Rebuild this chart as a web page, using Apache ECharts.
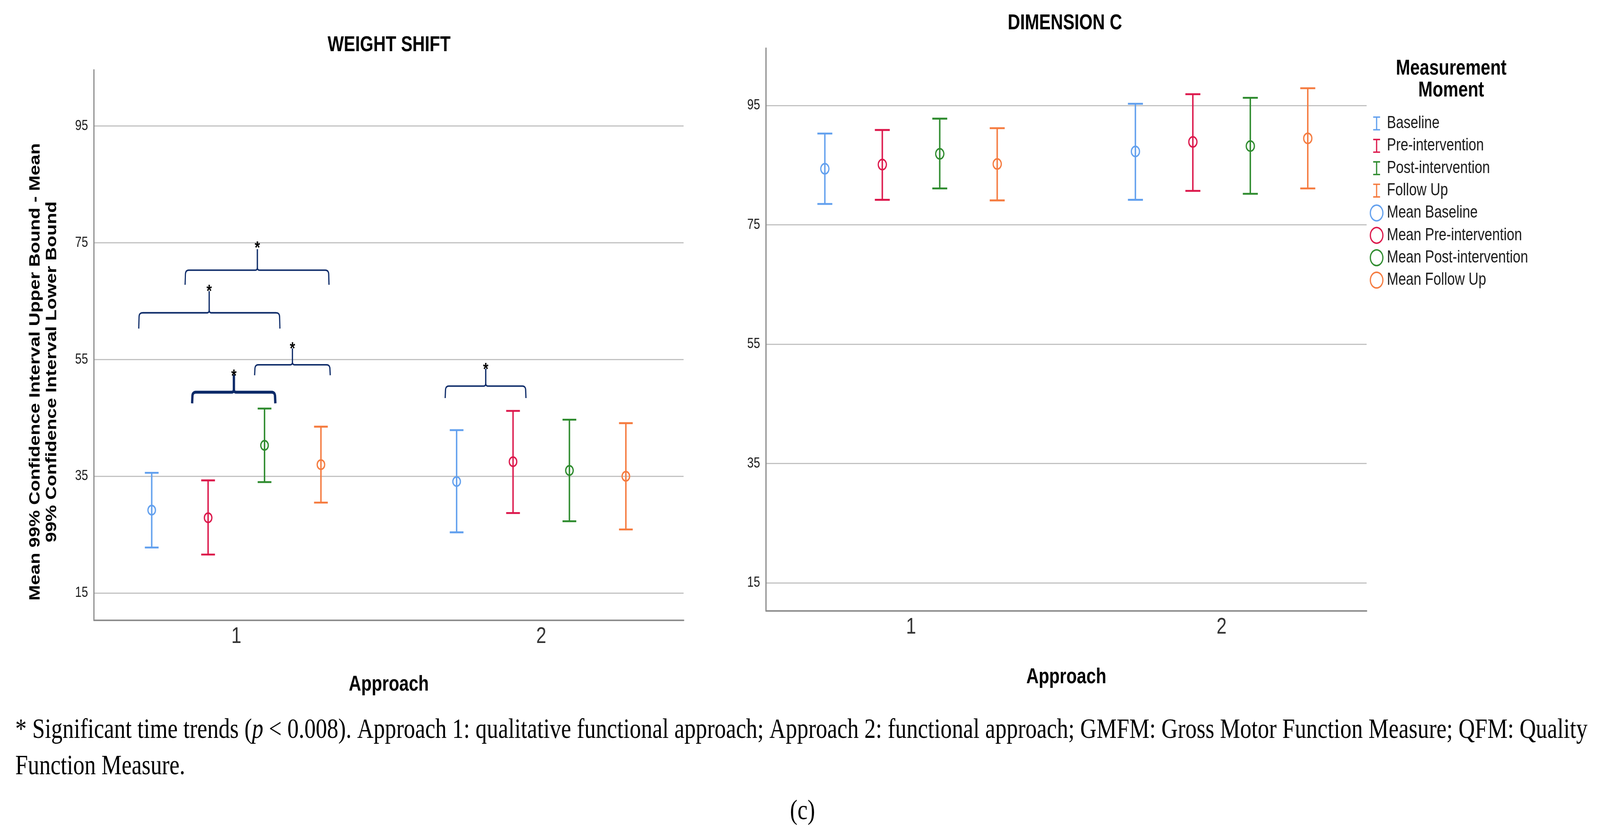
<!DOCTYPE html>
<html>
<head>
<meta charset="utf-8">
<script src="https://cdn.jsdelivr.net/npm/echarts@6/dist/echarts.min.js"></script>
<style>html,body{margin:0;padding:0;background:#fff;overflow:hidden}#wrap{position:relative;overflow:hidden}#c{position:absolute;left:0;top:0;width:5128px;height:2135px;transform-origin:0 0}</style>
</head>
<body>
<div id="wrap"><div id="c"></div></div>
<script>
// ---------------- data ----------------
const approaches = [1, 2];
const moments = ['Baseline', 'Pre-intervention', 'Post-intervention', 'Follow Up'];
const yTicks = [15, 35, 55, 75, 95];

// WEIGHT SHIFT: per moment, values for approach 1 and 2
const wsMean  = [[29.2, 34.1], [27.9, 37.5], [40.3, 36.0], [37.0, 35.0]];
const wsLower = [[22.8, 25.4], [21.6, 28.7], [34.0, 27.3], [30.5, 25.9]];
const wsUpper = [[35.6, 42.9], [34.3, 46.2], [46.6, 44.7], [43.5, 44.1]];

// DIMENSION C
const dcMean  = [[84.4, 87.3], [85.1, 88.9], [86.9, 88.2], [85.2, 89.5]];
const dcLower = [[78.5, 79.2], [79.2, 80.7], [81.1, 80.2], [79.1, 81.1]];
const dcUpper = [[90.3, 95.3], [90.9, 96.9], [92.8, 96.3], [91.2, 97.9]];

// significance brackets on WEIGHT SHIFT (x in approach units, y in score units)
// [xLeft, xRight, yBar, yLegEnd, xStem, yStemTop, yStar, heavy]
const wsBrackets = [
  [0.832, 1.304, 70.3, 67.8, 1.069, 73.9, 74.6, 0],
  [0.680, 1.143, 63.0, 60.3, 0.911, 66.7, 67.2, 0],
  [1.060, 1.308, 54.1, 52.3, 1.184, 56.9, 57.4, 0],
  [0.855, 1.128, 49.4, 47.5, 0.992, 52.4, 52.7, 1],
  [1.685, 1.950, 50.45, 48.4, 1.818, 53.4, 53.8, 0]
];

// ---------------- style ----------------
const SANS = '"Liberation Sans", Arial, sans-serif';
const NARROW = '"Liberation Sans Narrow", "Liberation Sans", Arial, sans-serif';
const SERIF = '"Liberation Serif", "Times New Roman", serif';
const colors = ['#62a0ee', '#dc174b', '#2e8b2e', '#f57b3f'];
const BRACE = '#0c2a68';
const X_MIN = 0.533, X_MAX = 2.467, Y_MIN = 10.33, Y_MAX = 104.6, STEP = 0.185;

// the chart is laid out on a 5128x2135 design canvas and stretched to fill the viewport
const W = 5128, H = 2135;
const vw = window.innerWidth || W, vh = window.innerHeight || H;
const SX = vw / W, SY = vh / H;
const wrap = document.getElementById('wrap');
wrap.style.width = vw + 'px';
wrap.style.height = vh + 'px';
document.getElementById('c').style.transform = 'scale(' + SX + ',' + SY + ')';

const ctx = document.createElement('canvas').getContext('2d');
function fitSize(text, weight, family, target) {
  ctx.font = weight + ' 100px ' + family;
  return 100 * target / ctx.measureText(text).width;
}

function barRender(m, capHalf) {
  return function (params, api) {
    const x = api.value(0);
    const dx = api.size([STEP, 0])[0] * (m - 1.5);
    const pHi = api.coord([x, api.value(2)]);
    const pLo = api.coord([x, api.value(1)]);
    const cx = pHi[0] + dx;
    const st = { stroke: colors[m], lineWidth: 4.6, fill: null };
    return { type: 'group', children: [
      { type: 'line', shape: { x1: cx, y1: pHi[1], x2: cx, y2: pLo[1] }, style: st },
      { type: 'line', shape: { x1: cx - capHalf, y1: pHi[1], x2: cx + capHalf, y2: pHi[1] }, style: { stroke: colors[m], lineWidth: 4.8 } },
      { type: 'line', shape: { x1: cx - capHalf, y1: pLo[1], x2: cx + capHalf, y2: pLo[1] }, style: { stroke: colors[m], lineWidth: 4.8 } }
    ] };
  };
}
function meanRender(m, r) {
  return function (params, api) {
    const x = api.value(0);
    const dx = api.size([STEP, 0])[0] * (m - 1.5);
    const p = api.coord([x, api.value(1)]);
    return { type: 'circle', shape: { cx: p[0] + dx, cy: p[1], r: r },
      style: { fill: 'none', stroke: colors[m], lineWidth: 4 } };
  };
}
function quadPts(p0, p1, p2, n) {
  const pts = [];
  for (let i = 1; i <= n; i++) {
    const t = i / n, u = 1 - t;
    pts.push([u * u * p0[0] + 2 * u * t * p1[0] + t * t * p2[0], u * u * p0[1] + 2 * u * t * p1[1] + t * t * p2[1]]);
  }
  return pts;
}
function bracketRender(params, api) {
  const xl = api.value(0), xr = api.value(1), yb = api.value(2), yl = api.value(3);
  const xs = api.value(4), yt = api.value(5), ys = api.value(6), heavy = api.value(7);
  const L = api.coord([xl, yl]), R = api.coord([xr, yl]);
  const bar = api.coord([xl, yb])[1];
  const S = api.coord([xs, yt]);
  const st = api.coord([xs, ys]);
  const cX = S[0];
  const r = 11, c = 7;
  const lw = heavy ? 7.5 : 3.8;
  const left = [[L[0], L[1]], [L[0] + 1, bar + r]]
    .concat(quadPts([L[0] + 1, bar + r], [L[0] + 1, bar], [L[0] + 1 + r, bar], 6))
    .concat([[cX - c, bar]])
    .concat(quadPts([cX - c, bar], [cX, bar], [cX, bar - c], 5));
  const right = [[cX, bar - c]]
    .concat(quadPts([cX, bar - c], [cX, bar], [cX + c, bar], 5))
    .concat([[R[0] - 1 - r, bar]])
    .concat(quadPts([R[0] - 1 - r, bar], [R[0] - 1, bar], [R[0] - 1, bar + r], 6))
    .concat([[R[0], R[1]]]);
  const fs = 44;
  return { type: 'group', children: [
    { type: 'polyline', shape: { points: left }, style: { stroke: BRACE, lineWidth: lw, fill: null, lineJoin: 'round' } },
    { type: 'polyline', shape: { points: right }, style: { stroke: BRACE, lineWidth: lw, fill: null, lineJoin: 'round' } },
    { type: 'line', shape: { x1: cX, y1: bar - c + 1, x2: cX, y2: S[1] }, style: { stroke: BRACE, lineWidth: heavy ? 7.5 : 4 } },
    { type: 'text', x: st[0], y: st[1] + 0.226 * fs,
      style: { text: '*', font: 'bold ' + fs + 'px ' + SANS, fill: '#000',
        align: 'center', verticalAlign: 'middle', textAlign: 'center', textVerticalAlign: 'middle' } }
  ] };
}

// ---------------- series ----------------
const sets = [
  { mean: wsMean, lower: wsLower, upper: wsUpper, cap: 22, r: 12 },
  { mean: dcMean, lower: dcLower, upper: dcUpper, cap: 24, r: 13 }
];
const series = [];
sets.forEach(function (s, g) {
  moments.forEach(function (name, m) {
    series.push({
      type: 'custom', name: name, xAxisIndex: g, yAxisIndex: g,
      itemStyle: { color: colors[m] }, silent: true,
      encode: { x: 0, y: [1, 2] },
      renderItem: barRender(m, s.cap),
      data: approaches.map(function (a, j) { return [a, s.lower[m][j], s.upper[m][j]]; })
    });
  });
  moments.forEach(function (name, m) {
    series.push({
      type: 'custom', name: 'Mean ' + name, xAxisIndex: g, yAxisIndex: g,
      itemStyle: { color: colors[m] }, silent: true,
      encode: { x: 0, y: 1 },
      renderItem: meanRender(m, s.r),
      data: approaches.map(function (a, j) { return [a, s.mean[m][j]]; })
    });
  });
});
series.push({
  type: 'custom', name: 'significance', xAxisIndex: 0, yAxisIndex: 0, silent: true,
  renderItem: bracketRender, data: wsBrackets
});

// ---------------- legend icons ----------------
const BOX = 'M0,0h0.05v0.05h-0.05Z M56,44h-0.05v-0.05h0.05Z ';
const ICON_BAR = 'path://' + BOX + 'M17,4H39V7.6H29.9V36.4H39V40H17V36.4H26.1V7.6H17Z';
const ICON_RING = 'path://' + BOX + 'M6,22A22,22,0,0,1,50,22A22,22,0,0,1,6,22Z M9.8,22A18.2,18.2,0,0,0,46.2,22A18.2,18.2,0,0,0,9.8,22Z';
const legendData = moments.map(function (n, m) {
  return { name: n, icon: ICON_BAR, itemStyle: { color: colors[m], borderWidth: 0 } };
}).concat(moments.map(function (n, m) {
  return { name: 'Mean ' + n, icon: ICON_RING, itemStyle: { color: colors[m], borderWidth: 0 } };
}));

// ---------------- text sizes ----------------
const yTitle1 = 'Mean 99% Confidence Interval Upper Bound - Mean';
const yTitle2 = '99% Confidence Interval Lower Bound';
const yTitleSize = fitSize(yTitle1, 'bold', NARROW, 1172);
const note1 = '* Significant time trends (p < 0.008). Approach 1: qualitative functional approach; Approach 2: functional approach; GMFM: Gross Motor Function Measure; QFM: Quality';
const noteSize = Math.min(78, Math.max(60, fitSize(note1, 'normal', SERIF, 5040)));

function xAxisFor(g, gap) {
  return {
    type: 'value', gridIndex: g, min: X_MIN, max: X_MAX,
    name: 'Approach', nameLocation: 'middle', nameGap: gap,
    nameTextStyle: { fontFamily: SANS, fontSize: 55, fontWeight: 'bold', color: '#000' },
    axisLine: { show: true, onZero: false, lineStyle: { color: '#8e8e8e', width: 4 } },
    axisTick: { show: false, customValues: approaches },
    axisLabel: { customValues: approaches, margin: 13, fontFamily: SANS, fontSize: 58, color: '#333' },
    splitLine: { show: false }
  };
}
function yAxisFor(g) {
  return {
    type: 'value', gridIndex: g, min: Y_MIN, max: Y_MAX,
    axisLine: { show: true, onZero: false, lineStyle: { color: '#8e8e8e', width: 4 } },
    axisTick: { show: false, customValues: yTicks },
    axisLabel: { customValues: yTicks, margin: 19, fontFamily: SANS, fontSize: 37, color: '#1a1a1a' },
    splitLine: { show: true, lineStyle: { color: '#c2c2c2', width: 3 } }
  };
}

function txt(x, y, text, font, extra) {
  const style = Object.assign({ text: text, font: font, fill: '#000',
    align: 'center', verticalAlign: 'middle', textAlign: 'center', textVerticalAlign: 'middle' }, extra || {});
  return { type: 'text', x: x, y: y, silent: true, style: style };
}

const chart = echarts.init(document.getElementById('c'), null, { renderer: 'canvas', width: W, height: H });
chart.setOption({
  animation: false,
  backgroundColor: '#ffffff',
  grid: [
    { left: 301, top: 179, width: 1890, height: 1409, containLabel: false, outerBoundsMode: 'none' },
    { left: 2455, top: 123.5, width: 1925, height: 1440, containLabel: false, outerBoundsMode: 'none' }
  ],
  xAxis: [xAxisFor(0, 137), xAxisFor(1, 143)],
  yAxis: [yAxisFor(0), yAxisFor(1)],
  legend: {
    orient: 'vertical', left: 4384, top: 294, padding: 0,
    itemWidth: 56, itemHeight: 44, itemGap: 13.3, selectedMode: false,
    textStyle: { fontFamily: SANS, fontSize: 44, lineHeight: 44, color: '#1a1a1a' },
    data: legendData
  },
  graphic: [
    txt(1247, 116, 'WEIGHT SHIFT', 'bold 55px ' + SANS),
    txt(3413, 60, 'DIMENSION C', 'bold 55px ' + SANS),
    txt(4651, 204, 'Measurement\nMoment', 'bold 55px ' + SANS, { lineHeight: 56 }),
    Object.assign(txt(140.5, 952, yTitle1 + '\n' + yTitle2, 'bold ' + yTitleSize.toFixed(1) + 'px ' + NARROW,
      { lineHeight: 53 }), { rotation: Math.PI / 2 }),
    { type: 'text', x: 49, y: 1870, silent: true, style: {
      text: '* Significant time trends ({i|p} < 0.008). Approach 1: qualitative functional approach; Approach 2: functional approach; GMFM: Gross Motor Function Measure; QFM: Quality',
      fontFamily: SERIF, fontSize: noteSize, fill: '#000', align: 'left', verticalAlign: 'middle',
      textAlign: 'left', textVerticalAlign: 'middle',
      rich: { i: { fontFamily: SERIF, fontSize: noteSize, fontStyle: 'italic', fill: '#000' } } } },
    txt(49, 1963, 'Function Measure.', noteSize.toFixed(1) + 'px ' + SERIF, { align: 'left', textAlign: 'left' }),
    txt(2572, 2078, '(c)', noteSize.toFixed(1) + 'px ' + SERIF)
  ],
  series: series
});
</script>
</body>
</html>
